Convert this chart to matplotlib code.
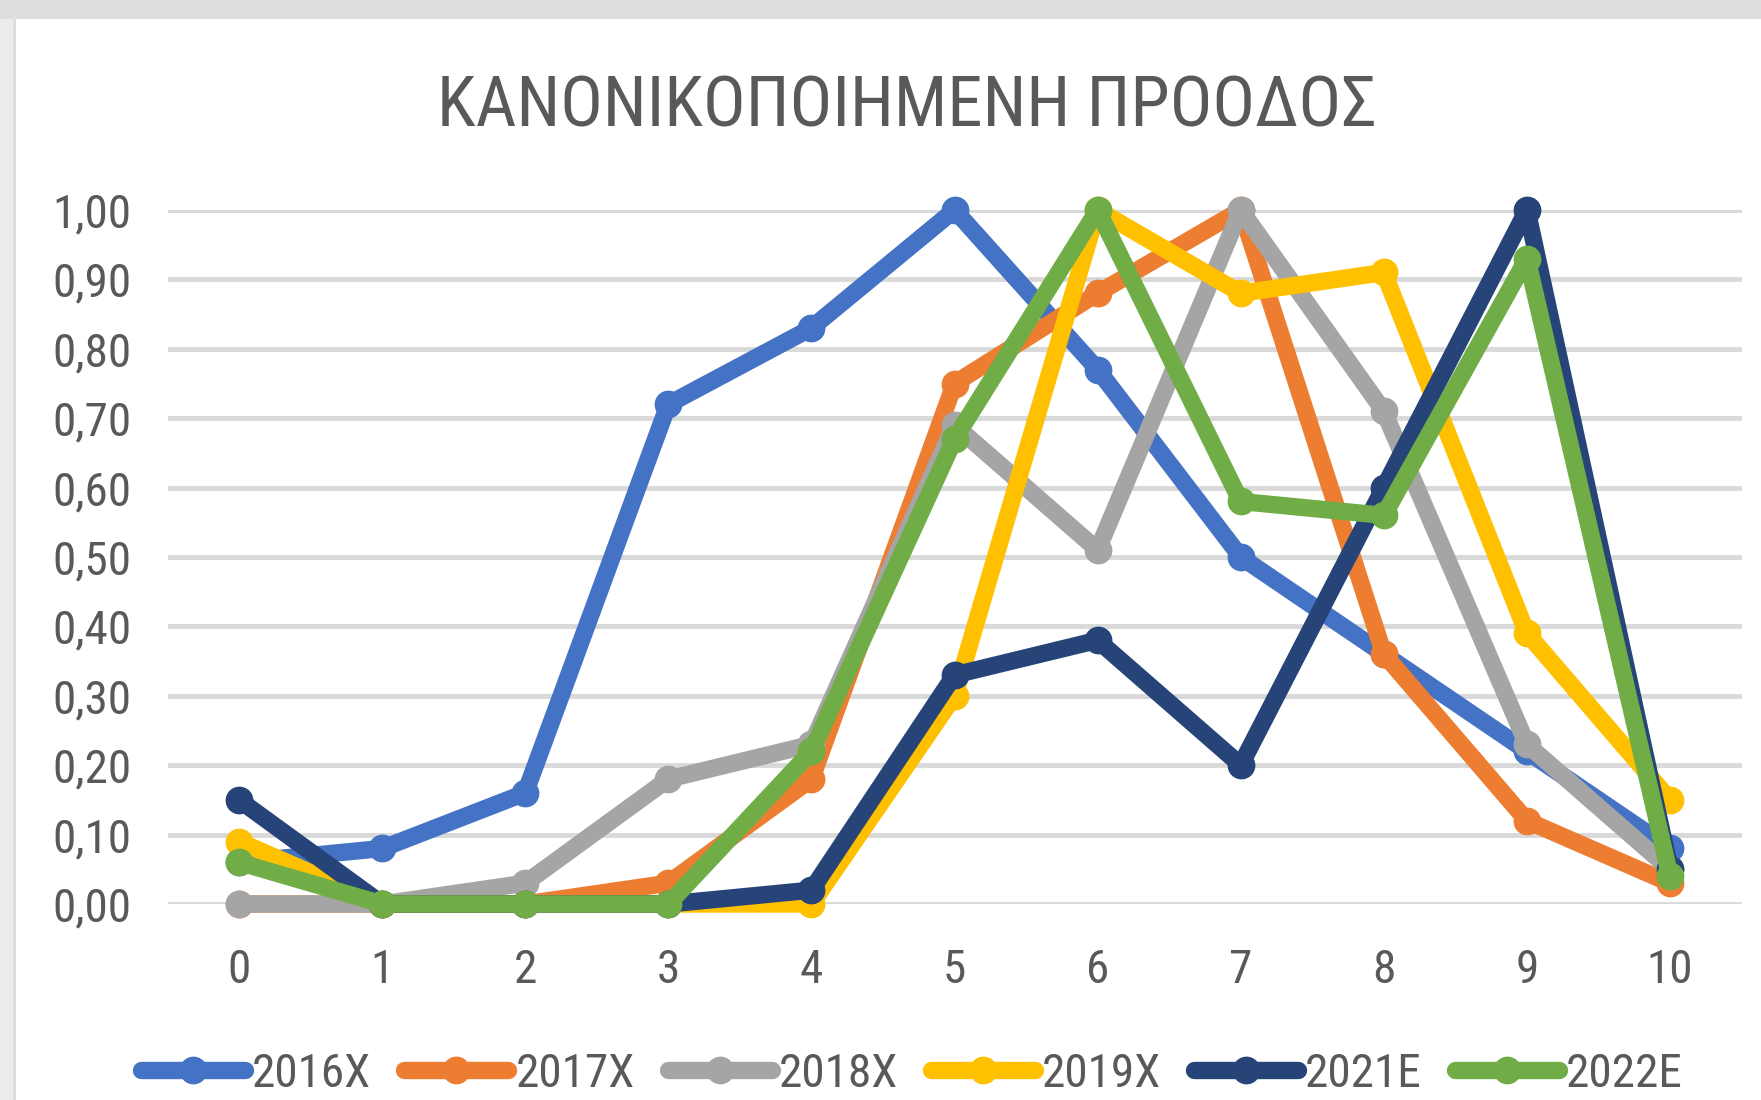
import matplotlib
matplotlib.use('Agg')
import matplotlib.pyplot as plt
from matplotlib.patches import Rectangle
from matplotlib.ticker import FuncFormatter, MultipleLocator
from matplotlib import font_manager

# δεδομένα (διαβασμένα από το γράφημα)
steps = [0, 1, 2, 3, 4, 5, 6, 7, 8, 9, 10]
y2016X = [0.06, 0.08, 0.16, 0.72, 0.83, 1.00, 0.77, 0.50, 0.36, 0.22, 0.08]
y2017X = [0.00, 0.00, 0.00, 0.03, 0.18, 0.75, 0.88, 1.00, 0.36, 0.12, 0.03]
y2018X = [0.00, 0.00, 0.03, 0.18, 0.23, 0.69, 0.51, 1.00, 0.71, 0.23, 0.05]
y2019X = [0.09, 0.00, 0.00, 0.00, 0.00, 0.30, 1.00, 0.88, 0.91, 0.39, 0.15]
y2021E = [0.15, 0.00, 0.00, 0.00, 0.02, 0.33, 0.38, 0.20, 0.60, 1.00, 0.05]
y2022E = [0.06, 0.00, 0.00, 0.00, 0.22, 0.67, 1.00, 0.58, 0.56, 0.93, 0.04]
labels = ['2016X', '2017X', '2018X', '2019X', '2021E', '2022E']
colors = ['#4472C4', '#ED7D31', '#A5A5A5', '#FFC000', '#264478', '#70AD47']

names = {f.name for f in font_manager.fontManager.ttflist}
fam = 'DejaVu Sans'
for cand in ['Liberation Sans Narrow', 'DejaVu Sans Condensed', 'Roboto Condensed', 'Liberation Sans']:
    if cand in names:
        fam = cand
        break
plt.rcParams['font.family'] = [fam, 'DejaVu Sans']
txt_col = '#595959'

fig = plt.figure(figsize=(17.61, 11), dpi=100)
fig.patch.set_facecolor('#dedede')
# λευκό φόντο του γραφήματος
fig.add_artist(Rectangle((16 / 1761, 0), 1, 1 - 19 / 1100, transform=fig.transFigure,
                         facecolor='white', edgecolor='none', zorder=-1))
fig.add_artist(Rectangle((0, 0), 13 / 1761, 1 - 19 / 1100, transform=fig.transFigure,
                         facecolor='#ececec', edgecolor='none', zorder=-1))

ax = fig.add_axes([167.5 / 1761, 1 - 904 / 1100, (1741.6 - 167.5) / 1761, (904 - 210) / 1100])
ax.set_facecolor('none')

series = [y2016X, y2017X, y2018X, y2019X, y2021E, y2022E]
for ys, lab, c in zip(series, labels, colors):
    ax.plot(steps, ys, color=c, lw=12.5, marker='o', markersize=19, label=lab,
            solid_joinstyle='round', solid_capstyle='round', clip_on=False)

ax.set_xlim(-0.5, 10.5)
ax.set_ylim(0, 1.0)
ax.set_xticks(steps)
ax.yaxis.set_major_locator(MultipleLocator(0.1))
ax.yaxis.set_major_formatter(FuncFormatter(lambda v, p: f'{v:.2f}'.replace('.', ',')))
ax.grid(axis='y', color='#d9d9d9', lw=3.5)
ax.set_axisbelow(True)
for s in ax.spines.values():
    s.set_visible(False)
ax.tick_params(axis='both', length=0, labelsize=34, labelcolor=txt_col)
ax.tick_params(axis='x', pad=32)
ax.tick_params(axis='y', pad=26)

fig.text(907 / 1761, 1 - 107 / 1100, 'ΚΑΝΟΝΙΚΟΠΟΙΗΜΕΝΗ ΠΡΟΟΔΟΣ', ha='center', va='center',
         fontsize=51, color=txt_col)

fig.legend(loc='center', bbox_to_anchor=(912 / 1761, 1 - 1074 / 1100), ncol=6, frameon=False,
           fontsize=34, labelcolor=txt_col, handlelength=2.2, handletextpad=0.15,
           columnspacing=0.7)

fig.savefig('out.png', dpi=100, facecolor=fig.get_facecolor())
